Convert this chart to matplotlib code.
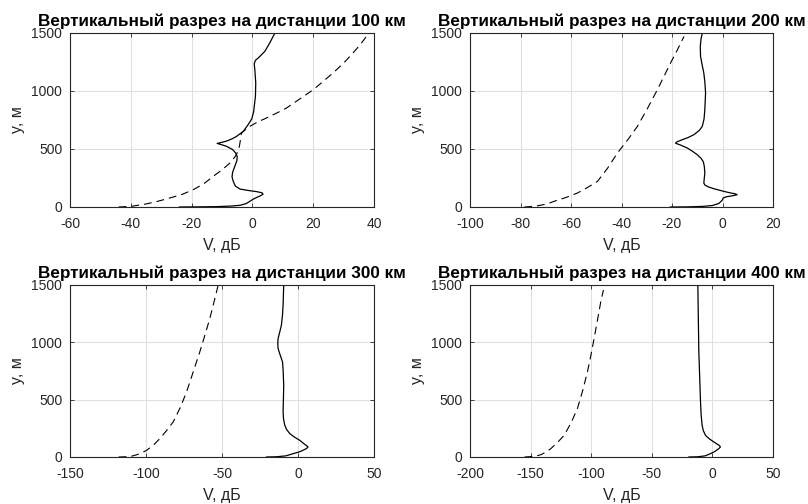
import matplotlib
matplotlib.use("Agg")
import matplotlib.pyplot as plt

plt.rcParams['font.family'] = ['Liberation Sans', 'DejaVu Sans']
plt.rcParams['axes.unicode_minus'] = False

titles = ["Вертикальный разрез на дистанции 100 км",
          "Вертикальный разрез на дистанции 200 км",
          "Вертикальный разрез на дистанции 300 км",
          "Вертикальный разрез на дистанции 400 км"]
xlabel = "V, дБ"
ylabel = "y, м"

xlims = [(-60, 40), (-100, 20), (-150, 50), (-200, 50)]
xticks = [[-60, -40, -20, 0, 20, 40],
          [-100, -80, -60, -40, -20, 0, 20],
          [-150, -100, -50, 0, 50],
          [-200, -150, -100, -50, 0, 50]]
yticks = [0, 500, 1000, 1500]

# Panel 1 (100 km)
s1_v = [-24, -18, -12, -7, -4, -2, -0.5, 0.8, 2.5, 3.5, 3.2, 1.5, -1.5, -4.1, -5.6, -6.3, -6.7, -6.5,
        -5.8, -5.1, -5.0, -5.5, -6.5, -8.5, -10.5, -11.6, -10, -8.5, -6.5, -5.2, -3.0, -1.4, -0.2,
        0.4, 1.0, 1.1, 0.8, 0.6, 1.0, 1.9, 4.1, 5.7, 7.4]
s1_y = [0, 1, 3, 8, 15, 30, 55, 75, 95, 110, 122, 132, 143, 155, 180, 221, 260, 300,
        350, 400, 437, 465, 495, 523, 540, 548, 558, 568, 590, 609, 652, 710, 760,
        820, 954, 1069, 1184, 1235, 1265, 1284, 1342, 1414, 1500]
d1_v = [-44, -40, -34.8, -31, -27.1, -23, -19.5, -16, -12.9, -10, -7.4, -5.8, -4.7, -4.3, -4.1, -3.8,
        -3.6, -1.2, 1.5, 4.6, 8, 11.2, 15.5, 20, 23.3, 26.5, 30, 33.1, 35.5, 37.5, 38.6]
d1_y = [0, 5, 27, 50, 78, 110, 149, 200, 264, 320, 379, 430, 480, 520, 552, 600,
        638, 690, 730, 767, 810, 853, 930, 1011, 1083, 1155, 1240, 1328, 1400, 1471, 1500]

# Panel 2 (200 km)
s2_v = [-20.6, -14, -8, -4, -1.5, -0.5, 0, 0.3, 1.5, 4, 5.8, 5, 3, 0.5, -3, -5.5, -7, -7.4, -7.2, -7.0,
        -7.2, -7.6, -8.5, -10.0, -12, -14.0, -16.5, -18.6, -18, -15.9, -13.5, -11.3, -9.2, -8.0, -7.3,
        -7.0, -6.7, -7.0, -7.4, -8.2, -8.7, -8.8, -8.5, -8.0]
s2_y = [0, 1, 5, 13, 30, 50, 62, 78, 88, 97, 106, 114, 122, 135, 155, 172, 190, 207, 250, 293,
        350, 390, 420, 451, 482, 509, 533, 550, 562, 580, 600, 624, 660, 695, 760,
        839, 983, 1080, 1155, 1240, 1299, 1385, 1450, 1500]
d2_v = [-78.5, -75, -72, -69, -66.7, -62, -57.4, -53.5, -49.5, -45.5, -41.6, -37.5, -33.7, -29.7,
        -25.8, -23.2, -20.6, -18.2, -15.9, -15.2]
d2_y = [0, 5, 15, 30, 49, 82, 121, 168, 221, 335, 466, 580, 695, 850,
        1011, 1125, 1241, 1340, 1442, 1470]

# Panel 3 (300 km)
s3_v = [-20.8, -14, -8, -3.2, 1, 3.5, 5.5, 6.6, 5.5, 3.5, 1.1, -2.5, -5.4, -7.5, -8.7, -9.5, -9.8, -9.6,
        -9.4, -9.8, -10.2, -12, -13.1, -13.3, -13.1, -12, -10.9, -10.2, -9.8, -9.4]
s3_y = [0, 2, 10, 29, 45, 60, 73, 87, 100, 120, 146, 175, 204, 240, 277, 330, 393, 500,
        626, 760, 830, 900, 947, 990, 1034, 1090, 1151, 1240, 1325, 1500]
d3_v = [-118, -110.6, -106, -102.5, -99.6, -95, -90.9, -86.5, -82.1, -77.5, -73.3, -69, -64.6, -61.2,
        -58, -55.2, -52.5]
d3_y = [0, 3, 20, 38, 58, 105, 160, 230, 306, 430, 568, 740, 917, 1065,
        1209, 1355, 1500]

# Panel 4 (400 km)
s4_v = [-19.4, -12, -6, -1.6, 2, 5.3, 6.6, 5.8, 4, 1.2, -2.5, -5.7, -7.5, -8.5, -9.3, -9.8, -10.5,
        -11.2, -11.6, -12.0]
s4_y = [0, 2, 10, 29, 48, 73, 87, 100, 112, 131, 158, 189, 230, 277, 370, 480, 700,
        917, 1200, 1500]
d4_v = [-155, -147, -141.5, -137, -133.3, -128, -122.3, -116.5, -111.4, -107, -103.1, -100.2, -97.6,
        -94.8, -92.1, -89.9]
d4_y = [0, 5, 20, 45, 73, 125, 189, 300, 422, 580, 743, 890, 1034,
        1195, 1354, 1456]

solid = [(s1_v, s1_y), (s2_v, s2_y), (s3_v, s3_y), (s4_v, s4_y)]
dashed = [(d1_v, d1_y), (d2_v, d2_y), (d3_v, d3_y), (d4_v, d4_y)]

W, H = 808, 504
fig = plt.figure(figsize=(W / 100, H / 100), dpi=100)
boxes = [(70, 33, 374, 207), (470, 33, 773, 207), (70, 285, 374, 457), (470, 285, 773, 457)]
dark = '#262626'

for i, (l, t, r, b) in enumerate(boxes):
    ax = fig.add_axes([l / W, 1 - b / H, (r - l) / W, (b - t) / H])
    ax.plot(dashed[i][0], dashed[i][1], color='black', lw=0.8, dashes=(7, 4.5))
    ax.plot(solid[i][0], solid[i][1], color='black', lw=0.9)
    ax.set_xlim(*xlims[i])
    ax.set_ylim(0, 1500)
    ax.set_xticks(xticks[i])
    ax.set_yticks(yticks)
    ax.grid(True, color='#e0e0e0', lw=0.8)
    ax.set_axisbelow(True)
    for sp in ax.spines.values():
        sp.set_color(dark)
        sp.set_linewidth(0.8)
    ax.tick_params(direction='in', length=3, width=0.6, colors=dark, labelsize=10,
                   top=True, right=True)
    ax.tick_params(axis='x', pad=7)
    ax.tick_params(axis='y', pad=5.5)
    ax.set_title(titles[i], fontsize=12.3, fontweight='bold', pad=5)
    ax.set_xlabel(xlabel, fontsize=11.5, color=dark, labelpad=5)
    ax.set_ylabel(ylabel, fontsize=11.5, color=dark, labelpad=5)

fig.savefig("out.png", dpi=100)
